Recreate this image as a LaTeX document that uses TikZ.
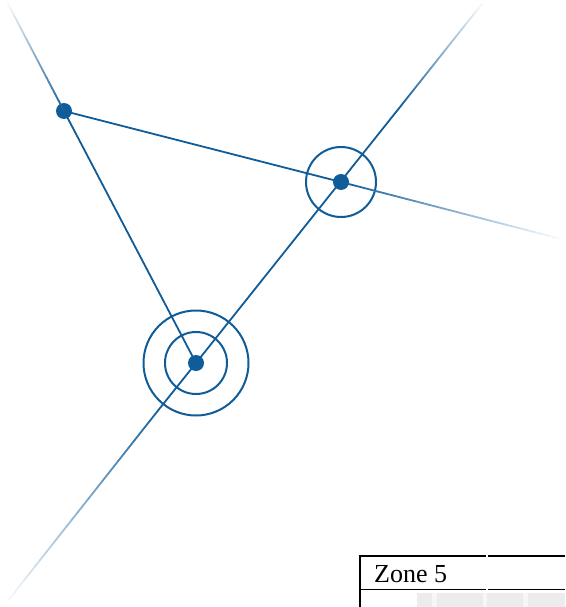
\documentclass[tikz,border=0pt]{standalone}
\usepackage{fontspec}
\setmainfont{Liberation Serif}
\usetikzlibrary{calc,positioning}
\definecolor{ray}{RGB}{16,92,152}
\definecolor{cellgray}{RGB}{236,236,236}
\definecolor{cellpale}{RGB}{246,246,246}
\newcommand{\fadeline}[2]{%
  \foreach \k in {1,...,30}{%
    \pgfmathsetmacro{\ta}{(\k-1)/30}%
    \pgfmathsetmacro{\tb}{\k/30}%
    \pgfmathtruncatemacro{\mixval}{100-(\k-0.5)*100/30}%
    \draw[link,line cap=round,draw=ray!\mixval!white] ($(#1)!\ta!(#2)$) -- ($(#1)!\tb!(#2)$);
  }%
}

\begin{document}
\begin{tikzpicture}[x=1pt,y=-1pt,
    site/.style={circle,fill=ray,inner sep=0pt,minimum size=16pt},
    ring/.style={circle,draw=ray,line width=2pt,inner sep=0pt},
    link/.style={draw=ray,line width=1.8pt}]
        \useasboundingbox (0,0) rectangle (565,607);
        \node[site] at (64,111) (d1) {};
        \node[site] at (341,182) (d2) {};
        \node[site] at (196,363) (d3) {};
        \node[ring,minimum size=70pt] at (341,182) (r1) {};
        \node[ring,minimum size=62pt] at (196,363) (r2) {};
        \node[ring,minimum size=105pt] at (196,363) (r3) {};
        \coordinate (f1) at (6,0);
        \coordinate (f2) at (400,107);
        \coordinate (f3) at (485,0);
        \coordinate (f4) at (565,240);
        \coordinate (f5) at (160,408);
        \coordinate (f6) at (3,607);
        \path[link]
        (d1.center) edge (d2.center)
        (d1.center) edge (d3.center)
        (d3.center) edge (f2)
        (d3.center) edge (f5)
        ;
        \fadeline{d1}{f1}
        \fadeline{f2}{f3}
        \fadeline{d2}{f4}
        \fadeline{f5}{f6}
        % zone table, cut off at the corner
        \fill[cellgray] (417,593) rectangle (565,607);
        \fill[cellpale] (432,593) rectangle (437,607);
        \fill[cellpale] (483,593) rectangle (487,607);
        \fill[cellpale] (523,593) rectangle (528,607);
        \draw[line width=2pt] (360,607) -- (360,556) -- (486,556);
        \draw[line width=2pt] (488,556) -- (565,556);
        \draw[line width=1pt] (360,589) -- (486,589);
        \draw[line width=1pt] (488,589) -- (565,589);
        \node[anchor=base west,inner sep=0pt,font=\fontsize{26}{30}\selectfont] at (374,582) (z5) {Zone 5};
    \end{tikzpicture}
\end{document}
